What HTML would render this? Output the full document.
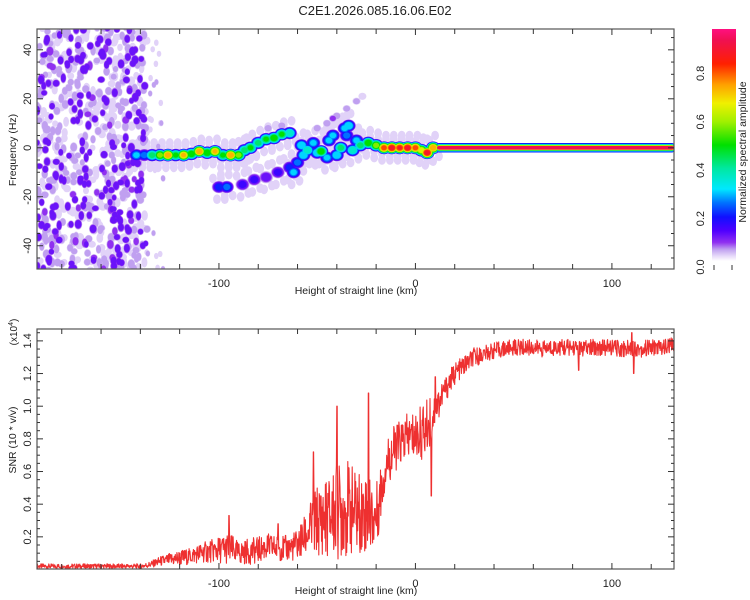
<!DOCTYPE html>
<html><head><meta charset="utf-8"><style>
body{margin:0;background:#fff;width:750px;height:600px;overflow:hidden}
svg{display:block;font-family:"Liberation Sans",sans-serif}
</style></head><body>
<svg id="chart" width="750" height="600" xmlns="http://www.w3.org/2000/svg">
<defs>
<clipPath id="clipTop"><rect x="37" y="29" width="637" height="240"/></clipPath>
<clipPath id="clipBot"><rect x="37" y="329" width="637" height="240"/></clipPath>
<linearGradient id="cbGrad" x1="0" y1="1" x2="0" y2="0">
<stop offset="0" stop-color="#ffffff"/><stop offset="0.02" stop-color="#e8dcfa"/><stop offset="0.05" stop-color="#c0a0f0"/>
<stop offset="0.08" stop-color="#9030f0"/><stop offset="0.13" stop-color="#5000ff"/><stop offset="0.19" stop-color="#1010ff"/>
<stop offset="0.25" stop-color="#0070ff"/><stop offset="0.31" stop-color="#00e8ff"/><stop offset="0.4" stop-color="#00e8a0"/>
<stop offset="0.5" stop-color="#00e000"/><stop offset="0.6" stop-color="#a0f000"/><stop offset="0.68" stop-color="#f0f000"/>
<stop offset="0.76" stop-color="#ffa000"/><stop offset="0.85" stop-color="#ff2000"/><stop offset="0.95" stop-color="#f01050"/><stop offset="1" stop-color="#ff1080"/>
</linearGradient>
</defs>
<text x="375" y="15" font-size="13" text-anchor="middle" fill="#222">C2E1.2026.085.16.06.E02</text>
<g id="specMarks" clip-path="url(#clipTop)"></g>
<g id="snrMarks" clip-path="url(#clipBot)"></g>
<g id="axes"></g>
</svg>
<script>
// ---- data ----
const ridgeKm  = [-142,-138,-134,-130,-126,-122,-118,-114,-110,-106,-102,-98,-94,-90,-87,-84,-80,-76,-72,-68,-64];
const ridgeHz  = [-3,-3,-3,-3,-3,-3,-3,-2.5,-1.5,-2,-1.5,-3,-3,-3,-1,0,2,3.5,4,5.5,6];
const ridgeAmp = [0.3,0.25,0.45,0.6,0.8,0.5,0.75,0.55,0.8,0.55,0.75,0.5,0.8,0.6,0.45,0.5,0.45,0.5,0.55,0.5,0.4];
const branchKm  = [-100,-96,-88,-82,-76,-70,-64,-60,-62,-57,-55,-58,-52,-50,-48,-45,-44,-42,-40,-38,-36,-34,-35,-32,-30,-28,-24,-20,-16,-12,-8,-4,0,3,6,9];
const branchHz  = [-16,-16,-15,-13,-12,-10,-8,-6,-10,-3,-1,1,2,-2,-1.5,-4,3,5,-3,0,8,9,5,-1,3,1,2,1,0,0,0,0,0,-1,-2,0];
const branchAmp = [0.2,0.25,0.15,0.15,0.12,0.15,0.2,0.25,0.3,0.35,0.4,0.35,0.3,0.35,0.55,0.3,0.3,0.3,0.35,0.45,0.3,0.35,0.25,0.4,0.3,0.45,0.55,0.6,0.85,0.95,0.9,0.95,0.85,0.7,0.95,0.8];
const faintKm  = [-75,-68,-50,-45,-42,-40,-35,-30,-27];
const faintHz  = [8,9,8,10,12,13,16,19,21];
const faintAmp = [0.06,0.06,0.06,0.06,0.08,0.06,0.05,0.05,0.04];
const bandStartKm = 11, bandHz = 0, bandAmp = 0.95;
const snrKm     = [-190,-185,-180,-175,-170,-165,-160,-155,-150,-145,-140,-135,-130,-125,-120,-115,-110,-105,-100,-95,-90,-85,-80,-75,-70,-65,-60,-55,-50,-45,-40,-35,-30,-25,-20,-15,-10,-5,0,5,10,15,20,25,30,35,40,45,50,55,60,65,70,75,80,85,90,95,100,105,110,115,120,125,130,135];
const snrMean   = [0.02,0.02,0.02,0.02,0.02,0.02,0.02,0.02,0.02,0.02,0.02,0.03,0.05,0.06,0.07,0.08,0.1,0.11,0.12,0.13,0.1,0.11,0.12,0.14,0.13,0.13,0.15,0.22,0.3,0.32,0.35,0.38,0.35,0.35,0.32,0.65,0.75,0.8,0.82,0.85,0.98,1.1,1.2,1.25,1.3,1.32,1.34,1.35,1.36,1.36,1.36,1.35,1.36,1.36,1.36,1.35,1.36,1.36,1.36,1.35,1.36,1.35,1.36,1.36,1.37,1.37];
const snrSpread = [0.015,0.015,0.015,0.015,0.015,0.015,0.015,0.015,0.015,0.015,0.015,0.02,0.03,0.04,0.05,0.05,0.06,0.07,0.08,0.1,0.07,0.08,0.08,0.08,0.08,0.08,0.1,0.14,0.22,0.25,0.3,0.3,0.25,0.25,0.2,0.15,0.15,0.15,0.15,0.18,0.12,0.08,0.07,0.06,0.06,0.05,0.05,0.05,0.05,0.05,0.05,0.05,0.05,0.05,0.05,0.05,0.05,0.05,0.05,0.05,0.05,0.05,0.05,0.05,0.05,0.05];
const spikeKm  = [-95,-70,-52,-40,-24,8,10,83,110,111];
const spikeVal = [0.33,0.28,0.72,1.0,1.08,0.45,1.18,1.22,1.45,1.2];
const xTicks = [-100,0,100];
const freqTicks = [-40,-20,0,20,40];
const snrTicks = [0.2,0.4,0.6,0.8,1.0,1.2,1.4];
const cbTicks = [0.0,0.2,0.4,0.6,0.8];

// ---- scales ----
const XMIN=-192.6, XMAX=131.6, PL=37, PR=674;
const x = k => PL + (k-XMIN)/(XMAX-XMIN)*(PR-PL);
const yF = f => 29 + (48.5-f)/(48.5+49.5)*240;
const yS = v => 569.5 - v*163.3;
const yC = v => 267 - v*242;
const NS='http://www.w3.org/2000/svg';
function mk(tag, attrs, parent){const e=document.createElementNS(NS,tag);for(const k in attrs)e.setAttribute(k,attrs[k]);parent.appendChild(e);return e;}
const stops=[[0,[255,255,255]],[0.02,[232,220,250]],[0.05,[192,160,240]],[0.08,[144,48,240]],[0.13,[80,0,255]],[0.19,[16,16,255]],[0.25,[0,112,255]],[0.31,[0,232,255]],[0.4,[0,232,160]],[0.5,[0,224,0]],[0.6,[160,240,0]],[0.68,[240,240,0]],[0.76,[255,160,0]],[0.85,[255,32,0]],[0.95,[240,16,80]],[1,[255,16,128]]];
function cmap(v){for(let i=1;i<stops.length;i++){if(v<=stops[i][0]){const a=stops[i-1],b=stops[i],t=(v-a[0])/(b[0]-a[0]);return 'rgb('+a[1].map((c,j)=>Math.round(c+(b[1][j]-c)*t)).join(',')+')';}}return 'rgb(255,16,128)';}

// ---- spectrogram ----
const spec=document.getElementById('specMarks');
let blobs=[];
const halo=[[-3,3.5],[3,-3.5],[1,5],[-1,-5]];
function addMain(k,f,a){blobs.push([k,f,a,7,6]);halo.forEach(h=>blobs.push([k+h[0],f+h[1],0.035,4,5]));}
ridgeKm.forEach((k,i)=>addMain(k,ridgeHz[i],ridgeAmp[i]));
branchKm.forEach((k,i)=>addMain(k,branchHz[i],branchAmp[i]));
faintKm.forEach((k,i)=>blobs.push([k,faintHz[i],faintAmp[i],4,3.5]));
// background noise texture (deterministic)
let seed=12345; const rnd=()=>{seed=(seed*1103515245+12345)%2147483648;return seed/2147483648;};
for(let i=0;i<750;i++){const k=XMIN+rnd()*56;const f=-50+rnd()*100;const a=rnd()<0.28?0.1+rnd()*0.05:0.03+rnd()*0.04;blobs.push([k,f,a,2.5+rnd()*1.5,3+rnd()*2.5]);}
for(let i=0;i<30;i++){const k=-137+rnd()*9;const f=-50+rnd()*100;blobs.push([k,f,0.03+rnd()*0.03,2,3]);}
const levels=[0.025,0.05,0.08,0.11,0.15,0.2,0.25,0.3,0.36,0.43,0.5,0.58,0.66,0.74,0.82,0.9];
levels.forEach(l=>{
  blobs.forEach(b=>{ if(b[2]<l) return; const s=Math.pow(1-l/(b[2]+0.04),0.45);
    const el=mk('ellipse',{cx:x(b[0]).toFixed(1),cy:yF(b[1]).toFixed(1),rx:(b[3]*s+0.6).toFixed(1),ry:(b[4]*s+0.6).toFixed(1),fill:cmap(l)},spec);
    
    
  });
});
const bandH=[[0.2,9.5],[0.31,7.5],[0.5,6],[0.68,5],[bandAmp,3.6]];
bandH.forEach(bh=>{const r=mk('rect',{x:x(bandStartKm),y:yF(bandHz)-bh[1]/2,width:x(XMAX)-x(bandStartKm),height:bh[1],fill:cmap(bh[0]),rx:2},spec);
  
  });

// ---- SNR line ----
const snr=document.getElementById('snrMarks');
function interp(arrX,arrY,k){if(k<=arrX[0])return arrY[0];for(let i=1;i<arrX.length;i++)if(k<=arrX[i]){const t=(k-arrX[i-1])/(arrX[i]-arrX[i-1]);return arrY[i-1]+(arrY[i]-arrY[i-1])*t;}return arrY[arrY.length-1];}
let pts=[];let j=0;
for(let k=XMIN;k<=XMAX;k+=0.2,j++){
  const h=Math.sin(j*12.9898)*43758.5453; const u=(h-Math.floor(h))*2-1;
  let v=interp(snrKm,snrMean,k)+u*interp(snrKm,snrSpread,k);
  spikeKm.forEach((sk,si)=>{if(Math.abs(k-sk)<0.2)v=spikeVal[si];});
  pts.push(x(k).toFixed(1)+','+yS(Math.max(v,0.005)).toFixed(1));
}
const line=mk('polyline',{points:pts.join(' '),fill:'none',stroke:'#ee3030','stroke-width':1.1,'stroke-linejoin':'round'},snr);



// ---- axes ----
const ax=document.getElementById('axes');
[[29,'top-plot-frame'],[329,'bottom-plot-frame']].forEach(([t,n])=>{const r=mk('rect',{x:PL,y:t,width:PR-PL,height:240,fill:'none',stroke:'#555','stroke-width':1.2},ax);
  
  });
function tl(x1,y1,x2,y2){mk('line',{x1,y1,x2,y2,stroke:'#333','stroke-width':1},ax);}
function txt(s,xx,yy,rot,name,size){const t=mk('text',{x:xx,y:yy,'font-size':size||11,'text-anchor':'middle',fill:'#222',transform:rot?`rotate(-90 ${xx} ${yy})`:''},ax);t.textContent=s;
  
  return t;}
[29,329].forEach(t=>{
  for(let k=-180;k<=120;k+=20){const px=x(k);const L=(k%100===0)?6:5;tl(px,t,px,t+L);tl(px,t+240,px,t+240-L);}
});
for(let f=-45;f<=45;f+=5){const py=yF(f);const L=f%20===0?6:3;tl(PL,py,PL+L,py);tl(PR,py,PR-L,py);}
for(let v=0.05;v<1.47;v+=0.05){const py=yS(v);const L=Math.abs(v*5-Math.round(v*5))<0.01?6:3;tl(PL,py,PL+L,py);tl(PR,py,PR-L,py);}
xTicks.forEach(k=>{txt(String(k),x(k),287,false,'x-tick-label');txt(String(k),x(k),587,false,'x-tick-label');});
freqTicks.forEach(f=>txt(String(f),31,yF(f),true,'freq-tick-label'));
snrTicks.forEach(v=>txt(v.toFixed(1),31,yS(v),true,'snr-tick-label'));
txt('Height of straight line (km)',356,294,false,'x-axis-title',10.5);
txt('Height of straight line (km)',356,594,false,'x-axis-title',10.5);
txt('Frequency (Hz)',16,150,true,'freq-axis-title',10.5);
txt('SNR (10 * v/v)',16,440,true,'snr-axis-title',10.5);
const ex=mk('text',{x:17,y:332,'font-size':10,'text-anchor':'middle',fill:'#222',transform:'rotate(-90 17 332)'},ax);
ex.innerHTML='(x10<tspan dy="-4" font-size="7">4</tspan><tspan dy="4">)</tspan>';


// colorbar
const cb=mk('rect',{x:712,y:29,width:24,height:yC(0)-29-6,fill:'url(#cbGrad)'},ax);


[714,732].forEach(px=>tl(px,265,px,270));
cbTicks.forEach(v=>txt(v.toFixed(1),704,yC(v),true,'colorbar-tick-label'));
txt('Normalized spectral amplitude',746,152,true,'colorbar-title',10.5);
</script>
</body></html>
